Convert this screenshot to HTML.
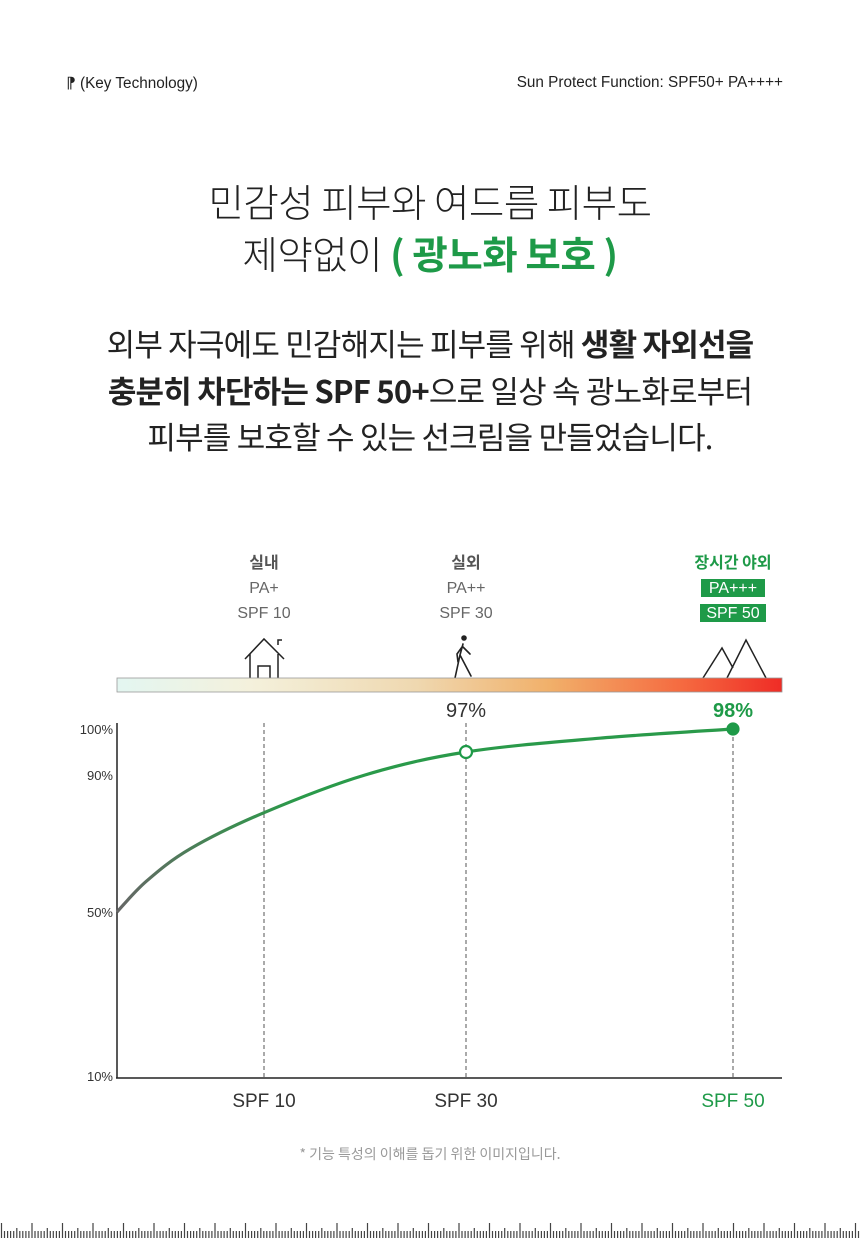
<!DOCTYPE html>
<html><head><meta charset="utf-8">
<style>
html,body{margin:0;padding:0;background:#fff;}
body{width:860px;height:1238px;position:relative;overflow:hidden;font-family:"Liberation Sans","Noto Sans CJK KR",sans-serif;color:#222;}
.abs{position:absolute;}
.hdr{top:74px;font-size:15.3px;color:#222;}
.title{left:0;width:860px;text-align:center;font-size:38.5px;font-weight:300;font-family:"Noto Sans CJK KR",sans-serif;letter-spacing:-0.5px;line-height:52px;}
.body{left:0;width:860px;text-align:center;font-size:31px;font-weight:400;font-family:"Noto Sans CJK KR",sans-serif;letter-spacing:-0.8px;line-height:46.5px;}
.g{color:#1e9a48;font-weight:700;}
b{font-weight:700;}
</style></head><body>
<div class="abs hdr" style="left:66px">⁋ (Key Technology)</div>
<div class="abs hdr" style="right:77px">Sun Protect Function: SPF50+ PA++++</div>
<div class="abs title" style="top:175px">민감성 피부와 여드름 피부도<br>제약없이 <span class="g" style="font-weight:700">( 광노화 보호 )</span></div>
<div class="abs body" style="top:320px">외부 자극에도 민감해지는 피부를 위해 <b>생활 자외선을</b><br><b>충분히 차단하는 SPF 50+</b>으로 일상 속 광노화로부터<br>피부를 보호할 수 있는 선크림을 만들었습니다.</div>

<svg class="abs" style="left:0;top:0" width="860" height="1238">
<defs>
<linearGradient id="bar" x1="0" x2="1" y1="0" y2="0">
<stop offset="0" stop-color="#e3f6f1"/><stop offset="0.2" stop-color="#f4f1dc"/><stop offset="0.45" stop-color="#efd8b0"/><stop offset="0.65" stop-color="#f1b06a"/><stop offset="0.85" stop-color="#f56a40"/><stop offset="1" stop-color="#ef2c26"/>
</linearGradient>
<linearGradient id="line" x1="117" x2="300" y1="0" y2="0" gradientUnits="userSpaceOnUse">
<stop offset="0" stop-color="#666"/><stop offset="0.6" stop-color="#3f8a52"/><stop offset="1" stop-color="#2a9a4a"/>
</linearGradient>
</defs>
<g id="labels" font-family="Liberation Sans, Noto Sans CJK KR, sans-serif" text-anchor="middle" font-size="16" fill="#666">
<text x="264" y="568" font-family="Noto Sans CJK KR,sans-serif" font-weight="700" fill="#555">실내</text>
<text x="264" y="593">PA+</text>
<text x="264" y="618">SPF 10</text>
<text x="466" y="568" font-family="Noto Sans CJK KR,sans-serif" font-weight="700" fill="#555">실외</text>
<text x="466" y="593">PA++</text>
<text x="466" y="618">SPF 30</text>
<text x="733" y="568" font-family="Noto Sans CJK KR,sans-serif" font-weight="700" fill="#1e9a48">장시간 야외</text>
<rect x="701" y="579" width="64" height="18" fill="#1e9a48"/>
<text x="733" y="593" fill="#fff">PA+++</text>
<rect x="700" y="604" width="66" height="18" fill="#1e9a48"/>
<text x="733" y="618" fill="#fff">SPF 50</text>
</g>
<g fill="none" stroke="#222" stroke-width="1.5">
<path d="M245 659 L264 639 L284 659 M250 654 V679 M278 654 V679 M258 679 V666 H270 V679 M278 645 V640 H282"/>
</g>
<g fill="none" stroke="#222" stroke-width="1.6" stroke-linecap="round">
<circle cx="464" cy="638" r="2" fill="#222"/>
<path d="M463 644 L460 655 L455 678 M460 655 L471 676 M462 647 L457 654 L458 662 M463 647 L470 654"/>
</g>
<g fill="none" stroke="#222" stroke-width="1.5">
<path d="M703 678 L722 648 L733 668 M727 678 L746 640 L766 678"/>
</g>
<rect x="117" y="678" width="665" height="14" fill="url(#bar)" stroke="#999" stroke-width="0.8"/>
<g id="axes"></g>
<g id="marks"></g>
<text x="430" y="1159" text-anchor="middle" font-size="14" fill="#999" font-family="Noto Sans CJK KR,sans-serif">* 기능 특성의 이해를 돕기 위한 이미지입니다.</text>
<g id="ruler"></g>
</svg>
<script>
const yTicks=[10,50,90,100];
const yTickLabels=['10%','50%','90%','100%'];
const xCats=[10,30,50];
const xCatLabels=['SPF 10','SPF 30','SPF 50'];
const curveSpf=[0,2,5,10,20,30,40,50];
const curveVal=[50,59,68.5,79,90,95,98,100];
const markedSpf=[30,50];
const markedLabels=['97%','98%'];

const NS='http://www.w3.org/2000/svg';
const yPix=[1076,912,775,729];
const xDom=[0,10,30,50], xPix=[117,264,466,733];
function interp(v,d,p){for(let i=0;i<d.length-1;i++){if(v<=d[i+1]||i===d.length-2){const t=(v-d[i])/(d[i+1]-d[i]);return p[i]+t*(p[i+1]-p[i]);}}}
function y(v){return interp(v,yTicks,yPix);}
function x(s){return interp(s,xDom,xPix);}
function mk(tag,attrs,parent){const e=document.createElementNS(NS,tag);for(const k in attrs)e.setAttribute(k,attrs[k]);parent.appendChild(e);return e;}
const ax=document.getElementById('axes'), mg=document.getElementById('marks');
let a=mk('line',{x1:117,y1:723,x2:117,y2:1078,stroke:'#222','stroke-width':1.5},ax);


a=mk('line',{x1:116,y1:1078,x2:782,y2:1078,stroke:'#222','stroke-width':1.5},ax);


yTicks.forEach((v,i)=>{const t=mk('text',{x:113,y:y(v)+5,'text-anchor':'end','font-size':13,fill:'#333'},ax);t.textContent=yTickLabels[i];

});
xCats.forEach((s,i)=>{const l=mk('line',{x1:x(s),y1:723,x2:x(s),y2:1078,stroke:'#555','stroke-width':1,'stroke-dasharray':'4 3'},ax);


const t=mk('text',{x:x(s),y:1107,'text-anchor':'middle','font-size':19,fill:i===2?'#1e9a48':'#333'},ax);t.textContent=xCatLabels[i];

});
const pts=curveSpf.map((s,i)=>[x(s),y(curveVal[i])]);
let d='M'+pts[0][0]+' '+pts[0][1];
for(let i=0;i<pts.length-1;i++){const p0=pts[Math.max(0,i-1)],p1=pts[i],p2=pts[i+1],p3=pts[Math.min(pts.length-1,i+2)];
d+=` C${p1[0]+(p2[0]-p0[0])/6} ${p1[1]+(p2[1]-p0[1])/6} ${p2[0]-(p3[0]-p1[0])/6} ${p2[1]-(p3[1]-p1[1])/6} ${p2[0]} ${p2[1]}`;}
const c=mk('path',{d:d,fill:'none',stroke:'url(#line)','stroke-width':3.2},mg);


markedSpf.forEach((s,i)=>{const v=curveVal[curveSpf.indexOf(s)];const last=i===markedSpf.length-1;
const p=mk('circle',{cx:x(s),cy:y(v),r:last?5.5:6,fill:last?'#1e9a48':'#fff',stroke:'#1e9a48','stroke-width':2.2},mg);


const t=mk('text',{x:x(s),y:717,'text-anchor':'middle','font-size':20,fill:last?'#1e9a48':'#333','font-weight':last?'700':'400'},mg);t.textContent=markedLabels[i];

});
const r=document.getElementById('ruler');


let dd='';
for(let i=0;i*3.05<=860;i++){const xx=1.5+i*3.05;const h=i%10===0?15:(i%5===0?10:7);dd+=`M${xx.toFixed(1)} 1238 V${1238-h} `;}
mk('path',{d:dd,stroke:'#444','stroke-width':1.2},r);
</script>
</body></html>
